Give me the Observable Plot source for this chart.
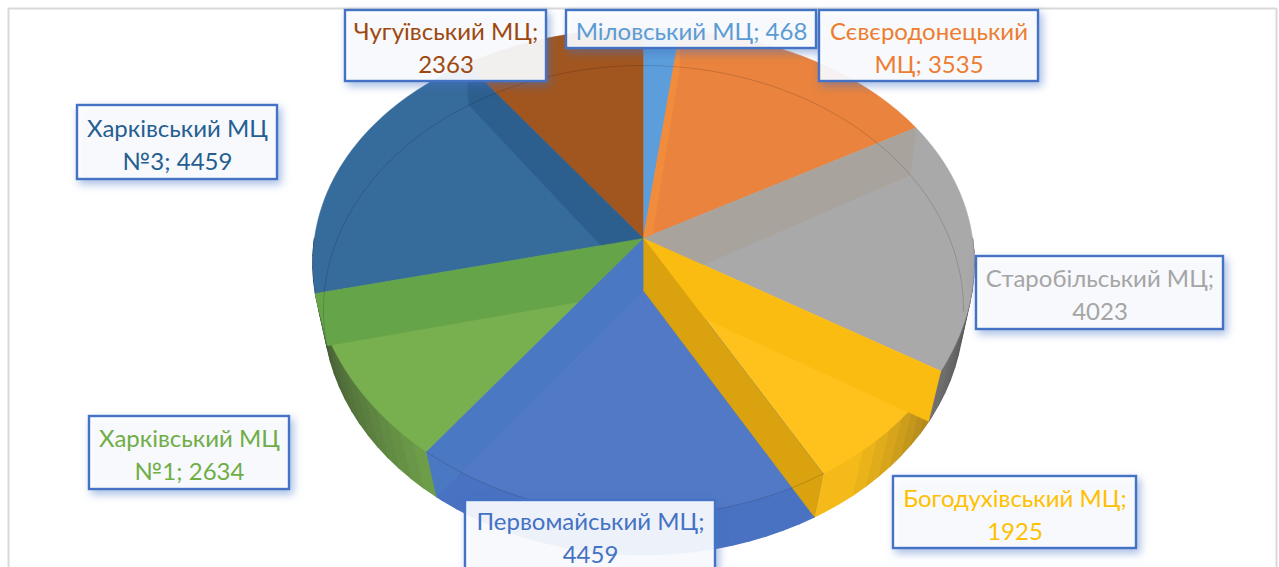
<!DOCTYPE html>
<html>
<head>
<meta charset="utf-8">
<script src="https://cdn.jsdelivr.net/npm/d3@7"></script>
<script src="https://cdn.jsdelivr.net/npm/@observablehq/plot@0.6"></script>
<style>html,body{margin:0;padding:0;background:#fff;overflow:hidden}svg{display:block}</style>
</head>
<body>
<div id="chart"></div>
<script>
// ---- data (clockwise from twelve o'clock)
const names = ["Міловський МЦ", "Сєвєродонецький\nМЦ", "Старобільський МЦ", "Богодухівський МЦ", "Первомайський МЦ", "Харківський МЦ\n№1", "Харківський МЦ\n№3", "Чугуївський МЦ"];
const values = [468, 3535, 4023, 1925, 4459, 2634, 4459, 2363];
const separators = ["; ", "; ", ";\n", ";\n", ";\n", "; ", "; ", ";\n"];

// ---- styles
const labelColors = ["#5B9BD5", "#ED7D31", "#A5A5A5", "#FFC000", "#4472C4", "#70AD47", "#255E91", "#9E480E"];
const faceColors = ["#5C9EDB", "#E9833E", "#A9A9A9", "#FFC11C", "#5279C5", "#79B04F", "#366C9B", "#A2561F"];
const wallColors = ["#5B9BD5", "#E07A30", "#9C9C9C", "#F5BA1A", "#4A72C2", "#70A24A", "#2F6090", "#8E4A14"];
const seamColors = ["#F18C3C", "#A9A39D", "#FBBC12", "#D9A20E", "#4B78C2", "#66A44A", "#2D5F8E", null];

// ---- camera of the 3-D pie: one ellipse for the top face, one for the bottom
const topFace = {cx: 643, cy: 238, a: 329, b: 239, k: 0.1376, kx: 0.1};
const bottomFace = {cx: 643, cy: 290, a: 319, b: 243, k: 0.08, kx: 0.08};
const project = (f, deg) => {
  const t = deg * Math.PI / 180, c = Math.cos(t);
  return {x: f.cx + f.a * Math.sin(t) / (1 + f.kx * c), y: f.cy - f.b * c / (1 + f.k * c)};
};
const arc = (f, d0, d1, step = 1) => {
  const out = [], n = Math.max(1, Math.round(Math.abs(d1 - d0) / step));
  for (let i = 0; i <= n; ++i) out.push(project(f, d0 + (d1 - d0) * i / n));
  return out;
};
const total = d3.sum(values);
const ends = d3.cumsum(values).map(v => v / total * 360);
const starts = [0, ...ends.slice(0, -1)];

const poly = (pts, fill, strokeWidth = 0.6) => Plot.line(pts, {x: "x", y: "y", fill, stroke: fill, strokeWidth, curve: "linear"});
const faint = (pts) => Plot.line(pts, {x: "x", y: "y", stroke: "#000", strokeOpacity: 0.15, strokeWidth: 1, curve: "linear"});

const marks = [];

// frame of the chart area
marks.push(Plot.ruleY([8], {x1: 8, x2: 1276, stroke: "#D9D9D9", strokeWidth: 2}));
marks.push(Plot.ruleX([8, 1276], {y1: 8, y2: 567, stroke: "#D9D9D9", strokeWidth: 2}));

// outer wall of the front half, shaded towards the sides
values.forEach((_, i) => {
  const from = Math.max(starts[i], 90), to = Math.min(ends[i], 270);
  for (let a = from; a < to; a += 3) {
    const e = Math.min(a + 3, to), s = Math.sin((a + e) / 2 * Math.PI / 180) ** 2;
    const shade = Math.max(0, s - 0.35) * 0.9;
    marks.push(poly([project(topFace, a), project(topFace, e), project(bottomFace, e), project(bottomFace, a)],
      d3.interpolateRgb(wallColors[i], "#222")(shade), 1.4));
  }
});

// top faces
values.forEach((_, i) => {
  marks.push(poly([{x: topFace.cx, y: topFace.cy}, ...arc(topFace, starts[i], ends[i])], faceColors[i]));
});

// inner walls seen through the faces, back to front
const seamOrder = [0, 1, 2, 6, 5, 4, 3];
seamOrder.forEach(i => {
  const a = ends[i];
  marks.push(poly([
    {x: topFace.cx, y: topFace.cy}, project(topFace, a), project(bottomFace, a), {x: bottomFace.cx, y: bottomFace.cy}
  ], seamColors[i]));
});

// faint rims
marks.push(faint(arc(bottomFace, ends[5], 360 + 95)));
marks.push(faint(arc(topFace, ends[3], ends[4])));

// labels
const labelBoxes = [
  [566, 10, 816, 48], [819, 10, 1038, 81], [976, 256, 1223, 329], [893, 476, 1136, 548],
  [465, 500, 715, 570], [89, 416, 289, 489], [77, 105, 277, 179], [345, 10, 546, 81]
];
const labels = names.map((n, i) => ({
  text: n + separators[i] + values[i],
  color: labelColors[i],
  x1: labelBoxes[i][0], y1: labelBoxes[i][1], x2: labelBoxes[i][2], y2: labelBoxes[i][3]
}));
marks.push(Plot.rect(labels, {
  x1: "x1", x2: "x2", y1: "y1", y2: "y2",
  fill: "#FFFFFF", fillOpacity: 0.9, stroke: "#4472C4", strokeWidth: 2.4,
  imageFilter: "drop-shadow(3px 4px 4px rgba(68,114,196,0.5))"
}));
marks.push(Plot.text(labels, {
  x: d => (d.x1 + d.x2) / 2, y: d => (d.y1 + d.y2) / 2,
  text: "text", fill: d => d.color,
  fontSize: 24, lineHeight: 1.375, fontFamily: "Lato, 'Open Sans', sans-serif", lineAnchor: "middle"
}));

const chart = Plot.plot({
  width: 1279, height: 567, margin: 0,
  x: {domain: [0, 1279], range: [0, 1279], axis: null},
  y: {domain: [0, 567], range: [0, 567], axis: null},
  style: {background: "#fff"},
  marks
});
document.getElementById("chart").append(chart);
</script>
</body>
</html>
